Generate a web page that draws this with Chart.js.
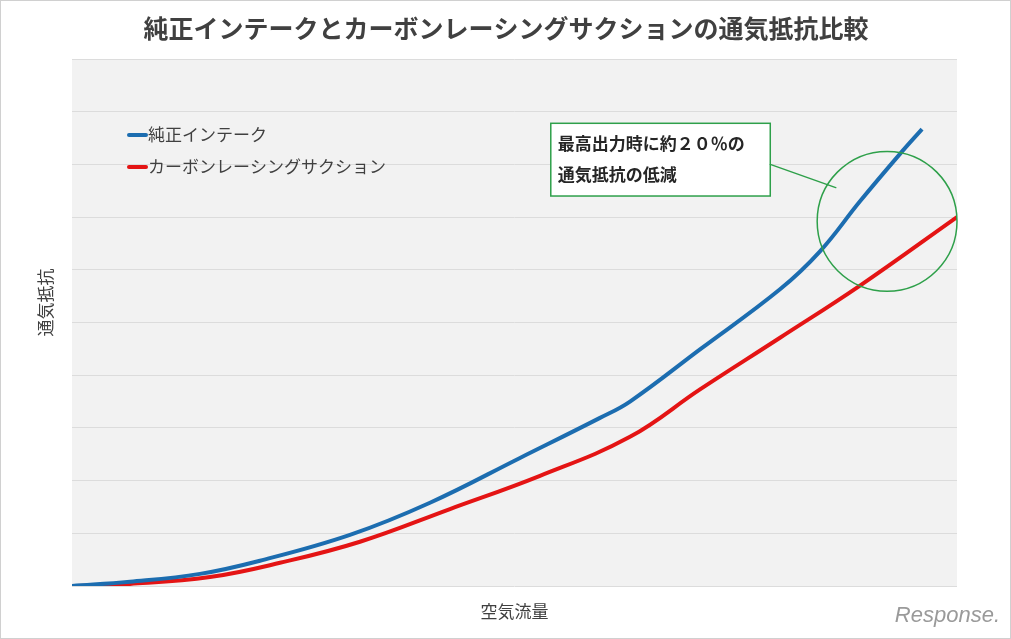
<!DOCTYPE html>
<html><head><meta charset="utf-8">
<script src="https://cdn.jsdelivr.net/npm/chart.js@4"></script>
<style>html,body{margin:0;padding:0;background:#fff;}#wrap{width:1011px;height:639px;position:relative;box-sizing:border-box;border:1px solid #d0d0d0;overflow:hidden}canvas{display:block;position:absolute;left:-1px;top:-1px}</style>
</head><body><div id="wrap"><canvas id="c" width="1011" height="639"></canvas></div>
<script>
const titleText = "純正インテークとカーボンレーシングサクションの通気抵抗比較";
const xTitle = "空気流量";
const yTitle = "通気抵抗";
const seriesNames = ["純正インテーク", "カーボンレーシングサクション"];
const blueX = [0, 6.55, 14.46, 21.24, 31.41, 40.45, 50.62, 59.66, 63.05, 70.96, 80.0, 84.52, 89.04, 93.56, 96.05];
const blueY = [0, 0.08, 0.23, 0.48, 0.97, 1.58, 2.43, 3.19, 3.50, 4.49, 5.63, 6.35, 7.30, 8.2, 8.67];
const redX = [0, 6.55, 15.59, 23.5, 32.54, 42.71, 52.88, 63.05, 70.96, 80.0, 89.04, 100];
const redY = [0, 0.04, 0.17, 0.44, 0.84, 1.46, 2.09, 2.83, 3.73, 4.71, 5.70, 7.0];
const noteLines = ["最高出力時に約２０％の", "通気抵抗の低減"];
const FONT = '"Noto Sans CJK JP", "Noto Sans", sans-serif';
const BLUE = '#1c6db0', RED = '#e41414', GREEN = '#2ea04a';

const pts = (xs, ys) => xs.map((x, i) => ({x, y: ys[i]}));

const deco = {
  id: 'deco',
  beforeDraw(chart) {
    const {ctx, chartArea: a} = chart;
    ctx.save();
    ctx.fillStyle = '#f2f2f2';
    ctx.fillRect(a.left, a.top, a.right - a.left, a.bottom - a.top);
    ctx.restore();
  },
  afterDraw(chart) {
    const {ctx, chartArea: a, scales: {x, y}} = chart;
    ctx.save();
    ctx.fillStyle = '#404040';
    ctx.font = 'bold 25px ' + FONT;
    ctx.textAlign = 'center'; ctx.textBaseline = 'middle';
    ctx.fillText(titleText, 506, 28);
    ctx.font = '17px ' + FONT;
    ctx.fillText(xTitle, (a.left + a.right) / 2, 612);
    ctx.save();
    ctx.translate(46, (a.top + a.bottom) / 2 - 20);
    ctx.rotate(-Math.PI / 2);
    ctx.fillText(yTitle, 0, 0);
    ctx.restore();
    const cols = [BLUE, RED];
    ctx.textAlign = 'left';
    ctx.font = '17px ' + FONT;
    seriesNames.forEach((n, i) => {
      const yy = 135 + i * 32;
      ctx.strokeStyle = cols[i]; ctx.lineWidth = 4; ctx.lineCap = 'round';
      ctx.beginPath(); ctx.moveTo(129, yy); ctx.lineTo(146, yy); ctx.stroke();
      ctx.fillStyle = '#404040';
      ctx.fillText(n, 148, yy);
    });
    ctx.strokeStyle = GREEN; ctx.lineWidth = 1.5;
    const cx = x.getPixelForValue(92.1), cy = y.getPixelForValue(6.92);
    const r = x.getPixelForValue(100) - x.getPixelForValue(92.1);
    ctx.beginPath(); ctx.arc(cx, cy, r, 0, Math.PI * 2); ctx.stroke();
    const bx1 = x.getPixelForValue(54.1), by1 = y.getPixelForValue(8.78);
    const bx2 = x.getPixelForValue(78.9), by2 = y.getPixelForValue(7.4);
    ctx.fillStyle = '#ffffff';
    ctx.fillRect(bx1, by1, bx2 - bx1, by2 - by1);
    ctx.strokeRect(bx1, by1, bx2 - bx1, by2 - by1);
    ctx.beginPath(); ctx.moveTo(bx2, y.getPixelForValue(8.0));
    ctx.lineTo(x.getPixelForValue(86.3), y.getPixelForValue(7.56)); ctx.stroke();
    ctx.fillStyle = '#262626';
    ctx.font = 'bold 17px ' + FONT;
    ctx.fillText(noteLines[0], bx1 + 7, by1 + 20);
    ctx.fillText(noteLines[1], bx1 + 7, by1 + 51);
    ctx.fillStyle = '#9a9a9a';
    ctx.font = 'italic 22px "Liberation Sans", sans-serif';
    ctx.textAlign = 'right';
    ctx.fillText('Response.', 1000, 616);
    ctx.restore();
  }
};

new Chart(document.getElementById('c'), {
  type: 'line',
  data: {datasets: [
    {label: seriesNames[0], data: pts(blueX, blueY), borderColor: BLUE, borderWidth: 4, pointRadius: 0, tension: 0.4},
    {label: seriesNames[1], data: pts(redX, redY), borderColor: RED, borderWidth: 4, pointRadius: 0, tension: 0.4}
  ]},
  options: {
    responsive: false, animation: false,
    layout: {padding: {left: 72, right: 54, top: 59, bottom: 45}},
    plugins: {legend: {display: false}, tooltip: {enabled: false}},
    scales: {
      x: {type: 'linear', min: 0, max: 100, ticks: {display: false}, grid: {display: false}, border: {display: false}},
      y: {min: 0, max: 10, ticks: {display: false, stepSize: 1}, grid: {color: '#dcdcdc', lineWidth: 1, drawTicks: false}, border: {display: false}}
    }
  },
  plugins: [deco]
});
</script></body></html>
